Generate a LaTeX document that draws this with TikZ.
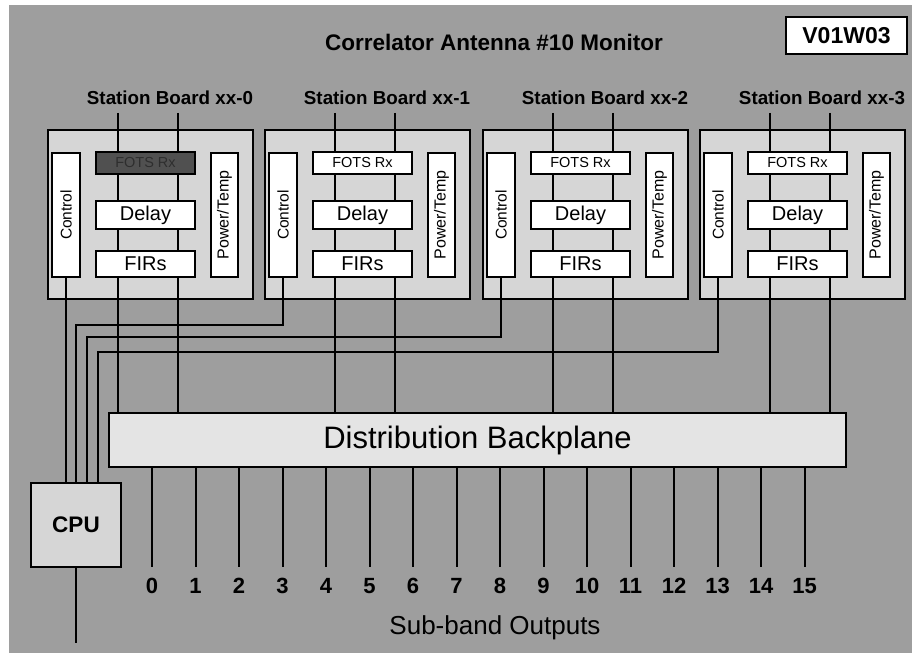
\documentclass[tikz,border=0pt]{standalone}
\usepackage{fontspec}
\setmainfont{Liberation Sans}
\usepackage{graphicx}
\pgfdeclarelayer{boards}
\pgfdeclarelayer{wires}
\pgfsetlayers{boards,wires,main}
\definecolor{bggray}{HTML}{9E9E9E}
\definecolor{boardgray}{HTML}{D6D6D6}
\definecolor{bpgray}{HTML}{E4E4E4}
\definecolor{darkfots}{HTML}{505050}
\definecolor{fotstext}{HTML}{2E2E2E}
\newcommand\fsz[1]{\fontsize{#1}{#1}\selectfont}
\begin{document}
\begin{tikzpicture}[x=1pt,y=-1pt,
  board/.style={draw=black,line width=2pt,fill=boardgray,minimum width=205pt,minimum height=169pt,inner sep=0pt},
  blk/.style={draw=black,line width=1.5pt,fill=white,inner sep=0pt},
  hblk/.style={blk,minimum width=99pt},
  vblk/.style={blk,minimum height=124pt},
  wire/.style={line width=2pt,black},
  stlabel/.style={font=\bfseries\fsz{18.8}},
  numlabel/.style={font=\bfseries\fsz{22}},
]
\useasboundingbox (0,0) rectangle (912,655);
\begin{pgfonlayer}{boards}
  \fill[white] (0,0) rectangle (912,655);
  \fill[bggray] (9,5) rectangle (912,653);
\end{pgfonlayer}

\node[font=\bfseries\fsz{22.5}] (title) at (494,42) {Correlator Antenna \#10 Monitor};
\node[draw=black,line width=1.5pt,fill=white,minimum width=121pt,minimum height=37pt,inner sep=0pt,font=\bfseries\fsz{23}] (ver) at (846.5,35.5) {V01W03};

\foreach \i/\L in {0/48,1/265,2/483,3/700} {
  \begin{pgfonlayer}{boards}
    \node[board] (brd\i) at (\L+102.5,214.5) {};
  \end{pgfonlayer}
  \node[stlabel] (lbl\i) at (\L+122,98) {Station Board xx-\i};
  \node[vblk,minimum width=28pt] (ctl\i) at (\L+18,215) {\rotatebox{90}{\fsz{15.5}Control}};
  \node[vblk,minimum width=27pt] (pwr\i) at (\L+176.5,215) {\rotatebox{90}{\fsz{16}Power/Temp}};
  \node[hblk,minimum height=28pt,font=\fsz{20}] (dly\i) at (\L+97.5,215) {Delay};
  \node[hblk,minimum height=26pt,font=\fsz{20}] (fir\i) at (\L+97.5,264) {FIRs};
  \coordinate (ina\i) at (\L+70,113);
  \coordinate (inb\i) at (\L+130,113);
}
\node[hblk,minimum height=22pt,fill=darkfots,text=fotstext,font=\fsz{14.5}] (fots0) at (48+97.5,163) {FOTS Rx};
\foreach \i/\L in {1/265,2/483,3/700} {
  \node[hblk,minimum height=22pt,font=\fsz{14.5}] (fots\i) at (\L+97.5,163) {FOTS Rx};
}

\node[draw=black,line width=1.2pt,fill=bpgray,minimum width=737pt,minimum height=54pt,inner sep=0pt,font=\fsz{31}] (bp) at (477.5,440) {Distribution Backplane};
\node[draw=black,line width=2.2pt,fill=boardgray,minimum width=90pt,minimum height=84pt,inner sep=0pt,font=\bfseries\fsz{22.5}] (cpu) at (76,525) {CPU};

\foreach \k in {0,...,15} {
  \node[numlabel] (o\k) at (152+43.5*\k,586) {\k};
  \coordinate (oe\k) at (152+43.5*\k,567);
}
\node[font=\fsz{26}] (sub) at (495,628) {Sub-band Outputs};
\coordinate (cpuout) at (76,643);
\coordinate (r1) at (76,325);
\coordinate (r2) at (87,337);
\coordinate (r3) at (98,352);

\begin{pgfonlayer}{wires}
  \foreach \i in {0,...,3} {
    \draw[wire] (ina\i) -- (ina\i |- bp.north);
    \draw[wire] (inb\i) -- (inb\i |- bp.north);
  }
  \draw[wire] (ctl0.south) -- (ctl0.south |- cpu.north);
  \draw[wire] (ctl1.south) |- (r1) -- (r1 |- cpu.north);
  \draw[wire] (ctl2.south) |- (r2) -- (r2 |- cpu.north);
  \draw[wire] (ctl3.south) |- (r3) -- (r3 |- cpu.north);
  \foreach \k in {0,...,15} {
    \draw[wire] (oe\k |- bp.south) -- (oe\k);
  }
  \draw[wire] (cpu.south) -- (cpuout);
\end{pgfonlayer}
\end{tikzpicture}
\end{document}
